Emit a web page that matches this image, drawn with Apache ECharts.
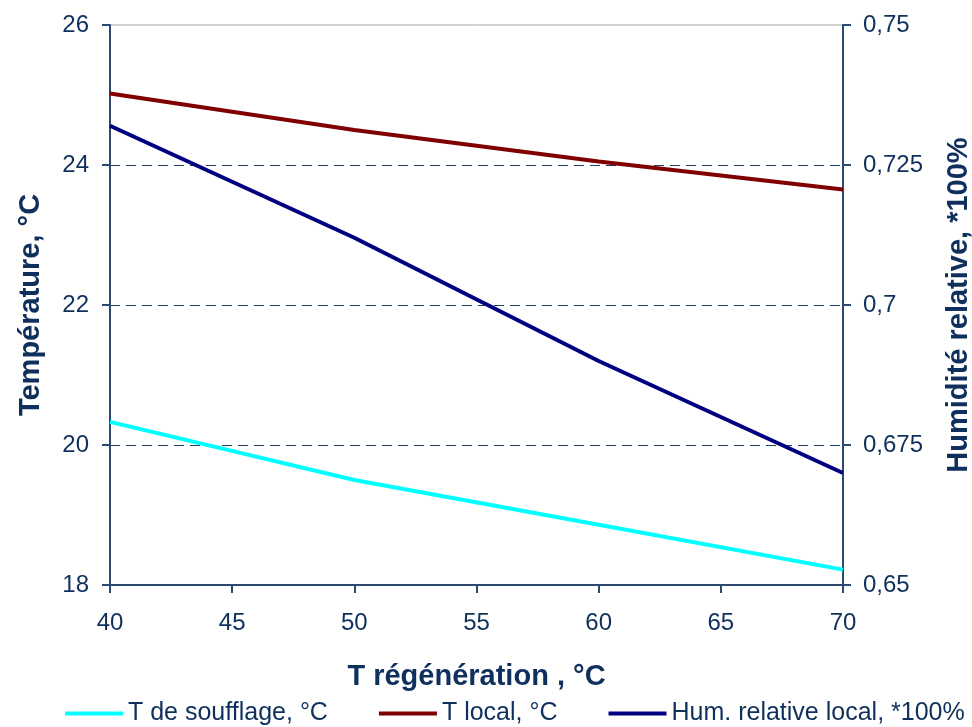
<!DOCTYPE html>
<html>
<head>
<meta charset="utf-8">
<script src="https://cdn.jsdelivr.net/npm/echarts@6/dist/echarts.min.js"></script>
<style>html,body{margin:0;padding:0;background:#fff;overflow:hidden}#c{width:972px;height:727px}</style>
</head>
<body>
<div id="c"></div>
<script>
var xValues = [40, 50, 60, 70];
var tSoufflage = [20.33, 19.5, 18.86, 18.22];
var tLocal = [25.02, 24.5, 24.05, 23.65];
var humRel = [0.732, 0.712, 0.690, 0.670];
var seriesNames = ['T de soufflage, °C', 'T local, °C', 'Hum. relative local, *100%'];
var leftTicks = [18, 20, 22, 24, 26];
var rightTicks = [0.65, 0.675, 0.7, 0.725, 0.75];

var axisColor = '#2B4A70';
var textColor = '#0F2F5C';
var font = '"Liberation Sans", Arial, sans-serif';

function pairs(ys) { return xValues.map(function (x, i) { return [x, ys[i]]; }); }

var chart = echarts.init(document.getElementById('c'), null, {renderer: 'canvas', width: 972, height: 727});
chart.setOption({
  animation: false,
  backgroundColor: '#fff',
  textStyle: {fontFamily: font},
  grid: {left: 110, right: 129, top: 25, bottom: 142, containLabel: false, outerBoundsMode: 'none',
    show: true, borderColor: '#A6A6A6', borderWidth: 1, backgroundColor: 'transparent'},
  legend: {
    top: 701, left: 65, width: 907, padding: 0,
    itemWidth: 58, itemHeight: 4, itemGap: 51,
    icon: 'rect',
    textStyle: {fontFamily: font, fontSize: 25, color: textColor},
    data: seriesNames
  },
  xAxis: {
    type: 'value', min: 40, max: 70, interval: 5,
    name: 'T régénération , °C', nameLocation: 'middle', nameGap: 77,
    nameTextStyle: {fontSize: 29, fontWeight: 'bold', color: textColor, fontFamily: font},
    axisLine: {show: true, lineStyle: {color: axisColor, width: 2}},
    axisTick: {show: true, length: 8, lineStyle: {color: axisColor, width: 2}},
    axisLabel: {fontSize: 24, color: textColor, margin: 26, fontFamily: font},
    splitLine: {show: false}
  },
  yAxis: [{
    type: 'value', min: 18, max: 26, interval: 2, position: 'left',
    name: 'Température, °C', nameLocation: 'middle', nameGap: 65,
    nameTextStyle: {fontSize: 29, fontWeight: 'bold', color: textColor, fontFamily: font},
    axisLine: {show: true, lineStyle: {color: axisColor, width: 2}},
    axisTick: {show: true, length: 8, lineStyle: {color: axisColor, width: 2}},
    axisLabel: {fontSize: 24, color: textColor, margin: 21, fontFamily: font,
      formatter: function (v) { return leftTicks.indexOf(v) >= 0 ? String(v) : ''; }},
    splitLine: {show: true, lineStyle: {color: '#1F3F66', type: [10, 6], width: 1},
      showMinLine: false, showMaxLine: false}
  }, {
    type: 'value', min: 0.65, max: 0.75, interval: 0.025, position: 'right',
    name: 'Humidité relative, *100%', nameLocation: 'middle', nameGap: 101,
    nameTextStyle: {fontSize: 29, fontWeight: 'bold', color: textColor, fontFamily: font},
    axisLine: {show: true, lineStyle: {color: axisColor, width: 2}},
    axisTick: {show: true, length: 8, lineStyle: {color: axisColor, width: 2}},
    axisLabel: {fontSize: 24, color: textColor, margin: 20, fontFamily: font,
      formatter: function (v) {
        var r = rightTicks.find(function (t) { return Math.abs(t - v) < 1e-9; });
        return r === undefined ? '' : String(r).replace('.', ',');
      }},
    splitLine: {show: false}
  }],
  series: [{
    name: seriesNames[0], type: 'line', yAxisIndex: 0, data: pairs(tSoufflage),
    showSymbol: false, symbol: 'none', lineStyle: {color: '#00FFFF', width: 4}, itemStyle: {color: '#00FFFF'}
  }, {
    name: seriesNames[1], type: 'line', yAxisIndex: 0, data: pairs(tLocal),
    showSymbol: false, symbol: 'none', lineStyle: {color: '#800000', width: 4}, itemStyle: {color: '#800000'}
  }, {
    name: seriesNames[2], type: 'line', yAxisIndex: 1, data: pairs(humRel),
    showSymbol: false, symbol: 'none', lineStyle: {color: '#000080', width: 4}, itemStyle: {color: '#000080'}
  }]
});
</script>
</body>
</html>
